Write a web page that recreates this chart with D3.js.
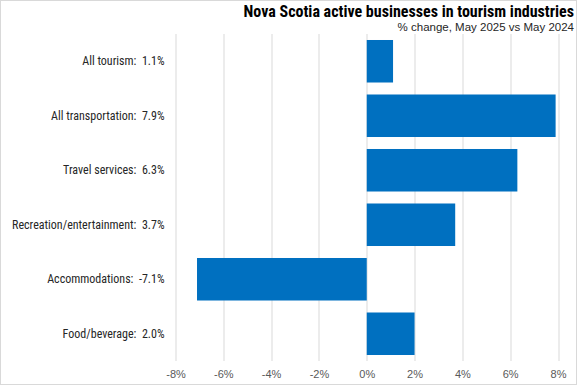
<!DOCTYPE html>
<html lang="en">
  <head>
    <meta charset="UTF-8" />
    <title>Nova Scotia active businesses in tourism industries</title>
    <script src="https://d3js.org/d3.v7.min.js"></script>
    <style>
      body { margin: 0; background: #fff; }
      svg { display: block; }
    </style>
  </head>
  <body>
    <svg id="chart" width="577" height="385"></svg>
    <script>
      const categories = [
        "All tourism",
        "All transportation",
        "Travel services",
        "Recreation/entertainment",
        "Accommodations",
        "Food/beverage",
      ];
      const values = [1.1, 7.9, 6.3, 3.7, -7.1, 2.0];
      const xTicks = [-8, -6, -4, -2, 0, 2, 4, 6, 8];

      const data = categories.map((c, i) => ({ name: c, value: values[i] }));

      const svg = d3.select("#chart"),
        font = "'Liberation Sans Narrow', 'Roboto Condensed', 'Liberation Sans', sans-serif",
        wideFont = "'Liberation Sans', Arial, sans-serif",
        margin = { top: 34, right: 19, bottom: 24, left: 175.5 },
        width = +svg.attr("width") - margin.left - margin.right,
        height = +svg.attr("height") - margin.top - margin.bottom;

      // outer border
      svg
        .append("rect")
        .attr("x", 0.5)
        .attr("y", 0.5)
        .attr("width", 576)
        .attr("height", 384)
        .attr("fill", "#fff")
        .attr("stroke", "#d9d9d9");

      const chart = svg
        .append("g")
        .attr("transform", `translate(${margin.left},${margin.top})`);

      const x = d3.scaleLinear().domain([-8, 8]).range([0, width]);
      const y = d3
        .scaleBand()
        .domain(categories)
        .range([0, height])
        .paddingInner(0.22)
        .paddingOuter(0.11);

      // gridlines
      chart
        .selectAll(".grid")
        .data(xTicks)
        .enter()
        .append("line")
        .attr("x1", (d) => Math.round(x(d)) + 0.5)
        .attr("x2", (d) => Math.round(x(d)) + 0.5)
        .attr("y1", 0)
        .attr("y2", height)
        .attr("stroke", "#d9d9d9")
        .attr("stroke-width", 1);

      chart
        .selectAll(".bar")
        .data(data)
        .enter()
        .append("rect")
        .attr("x", (d) => x(Math.min(0, d.value)))
        .attr("y", (d) => y(d.name))
        .attr("width", (d) => Math.abs(x(d.value) - x(0)))
        .attr("height", y.bandwidth())
        .attr("fill", "#0070c0");

      // x axis labels
      const xAxis = chart
        .append("g")
        .attr("transform", `translate(0,${height})`)
        .call(
          d3
            .axisBottom(x)
            .tickValues(xTicks)
            .tickSize(0)
            .tickPadding(9)
            .tickFormat((d) => d + "%")
        );
      xAxis.select(".domain").remove();
      xAxis
        .selectAll("text")
        .style("font-family", wideFont)
        .style("font-size", "11px")
        .attr("fill", "#595959");

      // category labels
      chart
        .selectAll(".cat")
        .data(data)
        .enter()
        .append("text")
        .attr("x", -11)
        .attr("y", (d) => y(d.name) + y.bandwidth() / 2)
        .attr("dy", "0.35em")
        .attr("text-anchor", "end")
        .style("font-family", font)
        .style("font-size", "12px")
        .attr("fill", "#262626")
        .text((d) => `${d.name}:  ${d.value.toFixed(1)}%`)
        .attr("xml:space", "preserve");

      svg
        .append("text")
        .attr("x", 574)
        .attr("y", 17)
        .attr("text-anchor", "end")
        .style("font-family", font)
        .style("font-size", "16px")
        .style("font-weight", "bold")
        .attr("fill", "#000")
        .text("Nova Scotia active businesses in tourism industries");

      svg
        .append("text")
        .attr("x", 574)
        .attr("y", 31)
        .attr("text-anchor", "end")
        .style("font-family", wideFont)
        .style("font-size", "11.5px")
        .attr("fill", "#262626")
        .text("% change, May 2025 vs May 2024");
    </script>
  </body>
</html>
